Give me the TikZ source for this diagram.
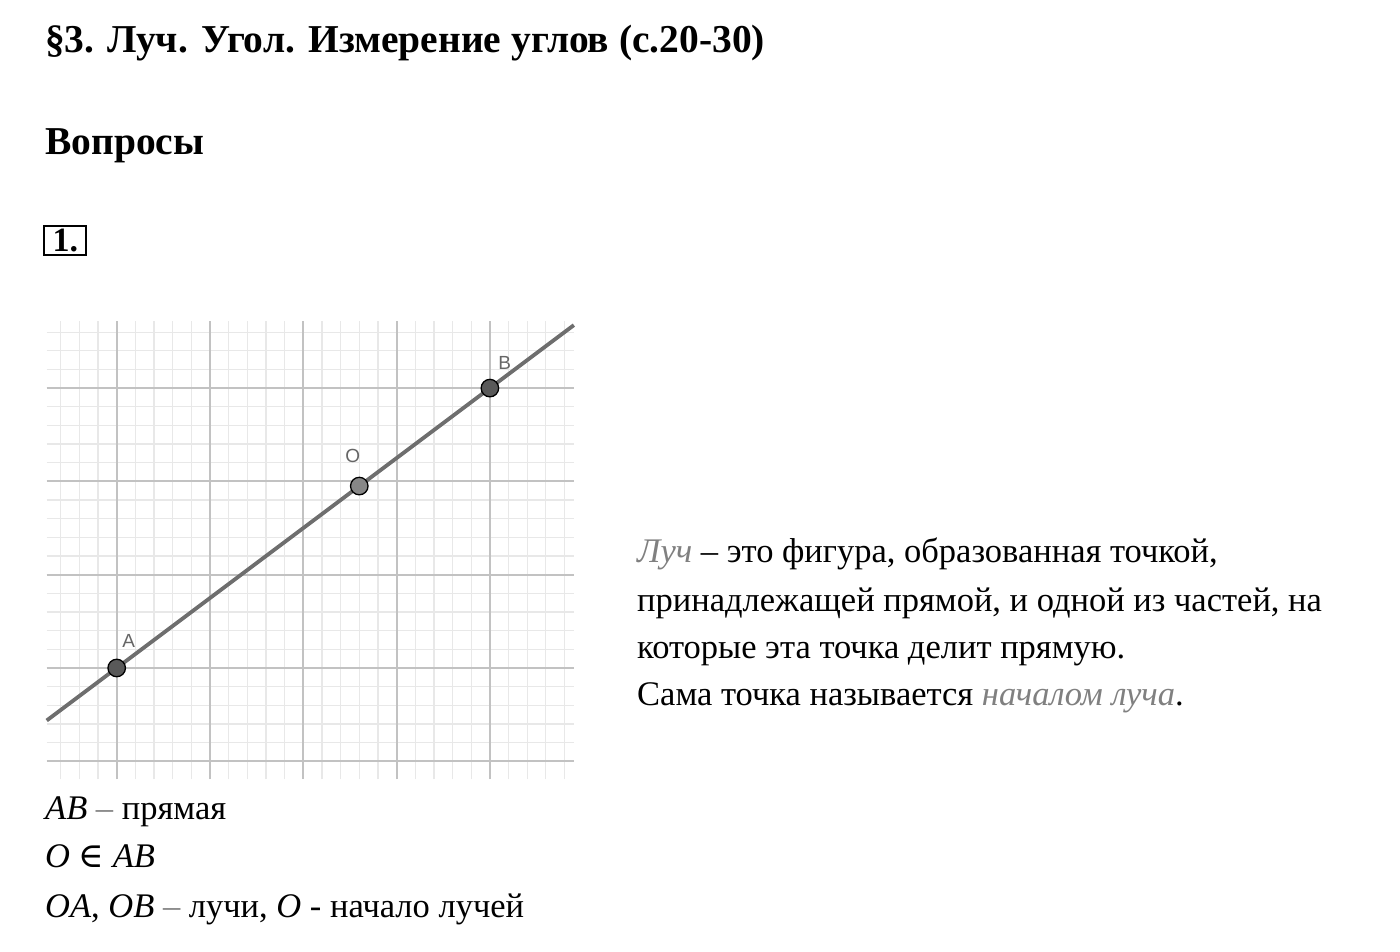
\documentclass[tikz,border=0pt]{standalone}
\usepackage{fontspec}
\setmainfont{Liberation Serif}
\newfontfamily\labelfont{Liberation Sans}
\newfontfamily\symbolfont{DejaVu Serif}
\usetikzlibrary{positioning}

\definecolor{minorgrid}{HTML}{E8E8E8}
\definecolor{majorgrid}{HTML}{C2C2C2}
\definecolor{raygray}{HTML}{6E6E6E}
\definecolor{termgray}{HTML}{808080}

\tikzset{
    pt/.style={circle, draw=black, line width=1.3pt, fill=#1, minimum size=17.5pt, inner sep=0pt},
    ptname/.style={font=\labelfont\fontsize{19}{19}\selectfont, text=black!60, inner sep=0pt},
    body/.style={font=\fontsize{34.5}{34.5}\selectfont, inner sep=0pt, anchor=base west},
    head/.style={font=\bfseries\fontsize{39.5}{39.5}\selectfont, inner sep=0pt, anchor=base west},
}

\begin{document}
\begin{tikzpicture}[x=1pt, y=1pt]
    \useasboundingbox[fill=white] (0,0) rectangle (1400,952);

    % Headings
    \node[head] (title) at (45,899.5) {§3. Луч. Угол. Измерение углов (с.20-30)};
    \node[head] (questions) at (45,797.7) {Вопросы};
    \node[draw, line width=2pt, minimum width=42pt, minimum height=29pt, inner sep=0pt,
          font=\bfseries\fontsize{34}{34}\selectfont] (num) at (65.3,711.6) {1.};

    % Grid with the line AB
    \begin{scope}[shift={(116.7,284)}, x=93.3pt, y=93.3pt]
        \foreach \i in {-3,...,24}
            \draw[minorgrid, line width=1.2pt] (\i*0.2,-1.19) -- (\i*0.2,3.72);
        \foreach \j in {-5,...,18}
            \draw[minorgrid, line width=1.2pt] (-0.75,\j*0.2) -- (4.9,\j*0.2);
        \foreach \i in {0,...,4}
            \draw[majorgrid, line width=1.8pt] (\i,-1.19) -- (\i,3.72);
        \foreach \j in {-1,...,3}
            \draw[majorgrid, line width=1.8pt] (-0.75,\j) -- (4.9,\j);

        \coordinate (lend) at (-0.75,-0.5625);
        \coordinate (rend) at (4.9,3.675);
        \draw[raygray, line width=3.8pt] (lend) -- (rend);

        \node[pt=black!65] (A) at (0,0) {};
        \node[pt=black!47] (O) at (2.6,1.95) {};
        \node[pt=black!65] (B) at (4,3) {};

        \node[ptname] (Aname) at (0.13,0.29) {A};
        \node[ptname] (Oname) at (2.53,2.27) {O};
        \node[ptname] (Bname) at (4.16,3.27) {B};
    \end{scope}

    % Definition
    \node[body] (def1) at (637,389) {\textit{\textcolor{termgray}{Луч}} – это фигура, образованная точкой,};
    \node[body] (def2) at (637,340.5) {принадлежащей прямой, и одной из частей, на};
    \node[body] (def3) at (637,293.5) {которые эта точка делит прямую.};
    \node[body] (def4) at (637,246.5) {Сама точка называется \textit{\textcolor{termgray}{началом луча}}.};

    % Notes under the grid
    \node[body] (note1) at (45,132.5) {\textit{AB} \textcolor{termgray}{–} прямая};
    \node[body] (note2) at (45,84) {\textit{O} {\symbolfont ∈} \textit{AB}};
    \node[body] (note3) at (45,34) {\textit{OA}, \textit{OB} \textcolor{termgray}{–} лучи, \textit{O} - начало лучей};
\end{tikzpicture}
\end{document}
